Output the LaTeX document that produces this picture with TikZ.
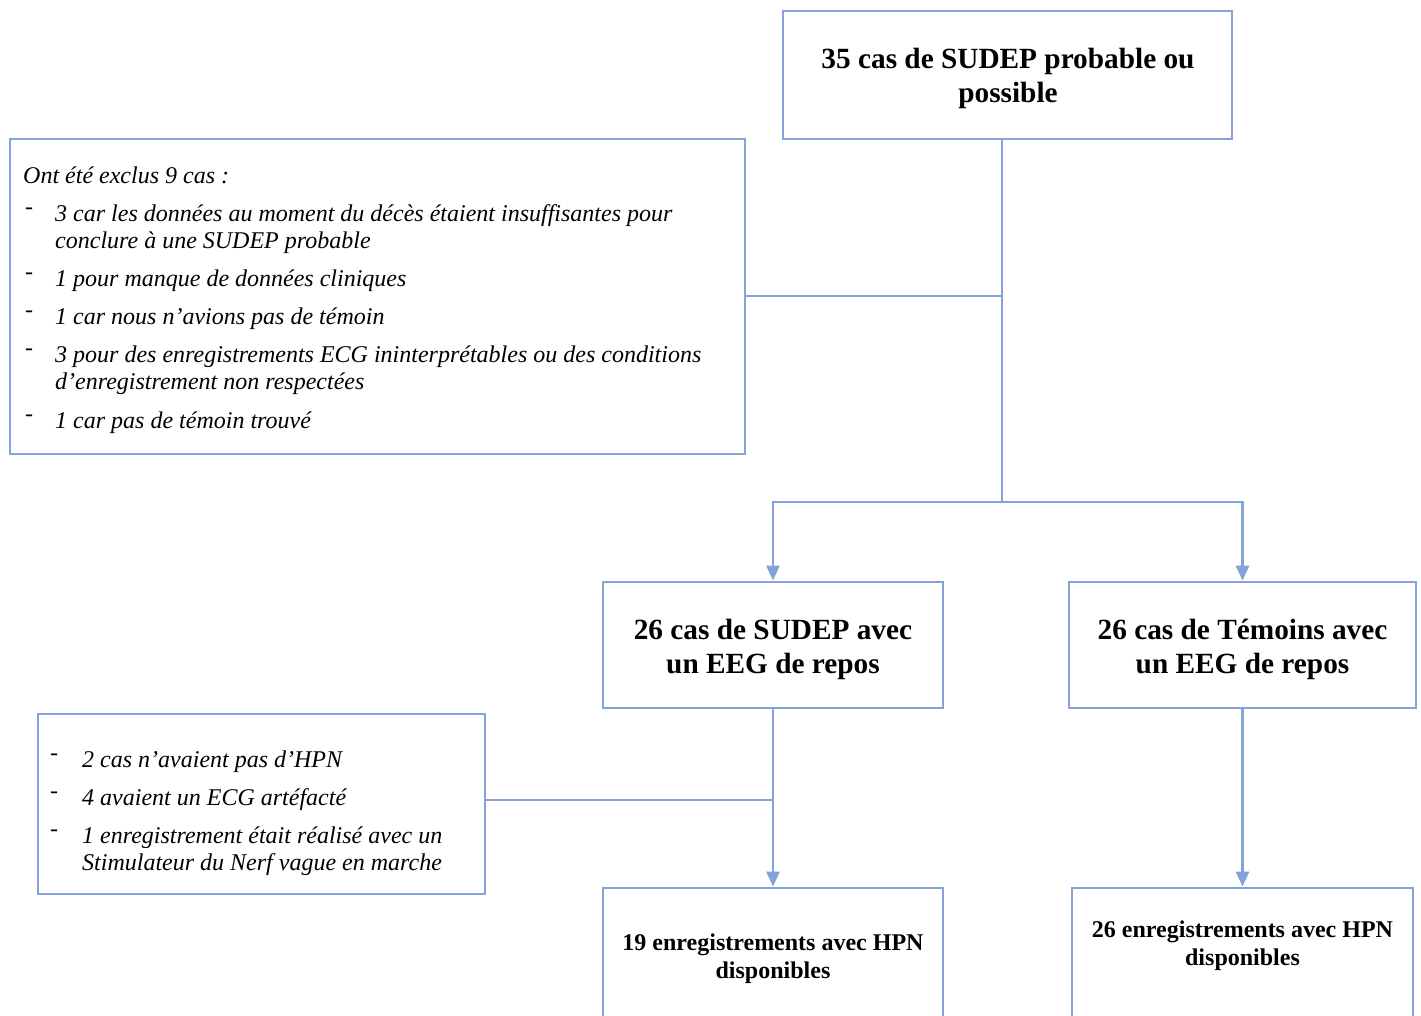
\documentclass[tikz,border=0pt]{standalone}
\usepackage{fontspec}
\setmainfont{Liberation Serif}
\usetikzlibrary{arrows.meta}
\definecolor{bl}{RGB}{132,163,219}
\newcommand\dashmark[1]{\llap{\upshape\raisebox{7pt}{-}\hspace{#1}}}
\begin{document}
\begin{tikzpicture}[x=1pt,y=-1pt,
  box/.style={draw=bl, line width=2.8pt, rectangle, inner sep=0pt},
  conn/.style={draw=bl, line width=2.8pt},
  arr/.style={conn, -{Triangle[length=15pt,width=13pt]}},
  hd/.style={font=\bfseries\fontsize{29.3}{34}\selectfont, anchor=base, inner sep=0pt},
  hs/.style={font=\bfseries\fontsize{24}{28}\selectfont, anchor=base, inner sep=0pt},
  itx/.style={font=\itshape\fontsize{24}{27.5}\selectfont, anchor=base west, inner sep=0pt},
]
\useasboundingbox (0,0) rectangle (1421,1015);
\clip (0,0) rectangle (1421,1015);

% boxes
\node[box, minimum width=449pt, minimum height=128pt] (top) at (1007.5,75) {};
\node[box, minimum width=735pt, minimum height=315pt] (excl) at (377.5,296.5) {};
\node[box, minimum width=340pt, minimum height=126pt] (sud) at (773,645) {};
\node[box, minimum width=347pt, minimum height=126pt] (tem) at (1242.5,645) {};
\node[box, minimum width=447pt, minimum height=180pt] (hpnx) at (261.5,804) {};
\node[box, minimum width=340pt, minimum height=160pt] (bl) at (773,968) {};
\node[box, minimum width=341pt, minimum height=160pt] (br) at (1242.5,968) {};

% titles
\node[hd] (t1) at (1008,68) {\begin{tabular}[t]{@{}c@{}}35 cas de SUDEP probable ou\\possible\end{tabular}};
\node[hd] (t2) at (773,639) {\begin{tabular}[t]{@{}c@{}}26 cas de SUDEP avec\\un EEG de repos\end{tabular}};
\node[hd] (t3) at (1242.5,639) {\begin{tabular}[t]{@{}c@{}}26 cas de Témoins avec\\un EEG de repos\end{tabular}};
\node[hs] (t4) at (773,950) {\begin{tabular}[t]{@{}c@{}}19 enregistrements avec HPN\\disponibles\end{tabular}};
\node[hs] (t5) at (1242.5,937) {\begin{tabular}[t]{@{}c@{}}26 enregistrements avec HPN\\disponibles\end{tabular}};

% exclusion list
\node[itx] (e0) at (23,183) {Ont été exclus 9 cas :};
\node[itx] (e1) at (55,221) {\dashmark{22pt}\parbox[t]{680pt}{3 car les données au moment du décès étaient insuffisantes pour\\conclure à une SUDEP probable}};
\node[itx] (e2) at (55,286) {\dashmark{22pt}1 pour manque de données cliniques};
\node[itx] (e3) at (55,324) {\dashmark{22pt}1 car nous n’avions pas de témoin};
\node[itx] (e4) at (55,362) {\dashmark{22pt}\parbox[t]{680pt}{3 pour des enregistrements ECG ininterprétables ou des conditions\\d’enregistrement non respectées}};
\node[itx] (e5) at (55,428) {\dashmark{22pt}1 car pas de témoin trouvé};

% HPN exclusion list
\node[itx] (h1) at (82,767) {\dashmark{24pt}2 cas n’avaient pas d’HPN};
\node[itx] (h2) at (82,805) {\dashmark{24pt}4 avaient un ECG artéfacté};
\node[itx] (h3) at (82,843) {\dashmark{24pt}\parbox[t]{400pt}{1 enregistrement était réalisé avec un\\Stimulateur du Nerf vague en marche}};

% connectors
\coordinate (j1) at (1002,296);
\coordinate (j2) at (1002,502);
\coordinate (j3) at (773,800);
\draw[conn] (top.south -| j1) -- (j2);
\draw[conn] (excl.east |- j1) -- (j1);
\draw[arr] (j2) -| (sud.north);
\draw[arr] (j2) -| (tem.north);
\draw[arr] (sud.south) -- (bl.north);
\draw[conn] (hpnx.east |- j3) -- (j3);
\draw[arr] (tem.south) -- (tem.south |- br.north);
\end{tikzpicture}
\end{document}
